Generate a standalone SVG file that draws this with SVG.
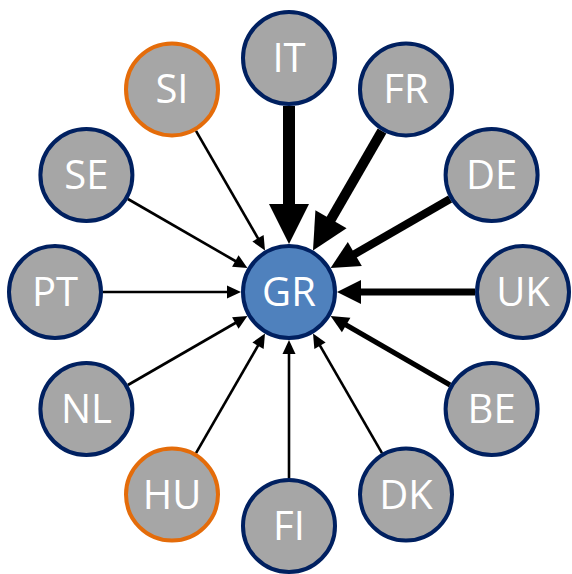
<svg xmlns="http://www.w3.org/2000/svg" width="572" height="574" viewBox="0 0 572 574">
<style>
.n{fill:#A6A6A6;stroke:#002060;stroke-width:4}
.o{fill:#A6A6A6;stroke:#E46C0A;stroke-width:4}
.c{fill:#4F81BD;stroke:#002060;stroke-width:4}
.t{font-family:"Open Sans","Noto Sans",sans-serif;font-size:40px;fill:#FFFFFF;text-anchor:middle}
.l{stroke:#000;fill:none}
.h{fill:#000}
</style>
<rect width="572" height="574" fill="#FFFFFF"/>
<g id="connectors">
  <!-- canonical arrow along +x from outer node (UK direction) into GR, rotated -->
  <g id="e-UK"><line class="l" x1="475" y1="292" x2="359" y2="292" stroke-width="7"/><polygon class="h" points="337,292 361,280 361,304"/></g>
  <g id="e-BE" transform="rotate(30 289 292)"><line class="l" x1="475" y1="292" x2="353" y2="292" stroke-width="5"/><polygon class="h" points="337,292 355,283.5 355,300.5"/></g>
  <g id="e-DK" transform="rotate(60 289 292)"><line class="l" x1="475" y1="292" x2="349" y2="292" stroke-width="2.6"/><polygon class="h" points="337,292 351,285.5 351,298.5"/></g>
  <g id="e-FI" transform="rotate(90 289 292)"><line class="l" x1="475" y1="292" x2="349" y2="292" stroke-width="2.6"/><polygon class="h" points="337,292 351,285.5 351,298.5"/></g>
  <g id="e-HU" transform="rotate(120 289 292)"><line class="l" x1="475" y1="292" x2="349" y2="292" stroke-width="2.6"/><polygon class="h" points="337,292 351,285.5 351,298.5"/></g>
  <g id="e-NL" transform="rotate(150 289 292)"><line class="l" x1="475" y1="292" x2="349" y2="292" stroke-width="2.6"/><polygon class="h" points="337,292 351,285.5 351,298.5"/></g>
  <g id="e-PT" transform="rotate(180 289 292)"><line class="l" x1="475" y1="292" x2="349" y2="292" stroke-width="2.6"/><polygon class="h" points="337,292 351,285.5 351,298.5"/></g>
  <g id="e-SE" transform="rotate(210 289 292)"><line class="l" x1="475" y1="292" x2="349" y2="292" stroke-width="2.6"/><polygon class="h" points="337,292 351,285.5 351,298.5"/></g>
  <g id="e-SI" transform="rotate(240 289 292)"><line class="l" x1="475" y1="292" x2="349" y2="292" stroke-width="2.6"/><polygon class="h" points="337,292 351,285.5 351,298.5"/></g>
  <g id="e-IT" transform="rotate(270 289 292)"><line class="l" x1="475" y1="292" x2="375" y2="292" stroke-width="12"/><polygon class="h" points="337,292 377,272 377,312"/></g>
  <g id="e-FR" transform="rotate(300 289 292)"><line class="l" x1="475" y1="292" x2="371" y2="292" stroke-width="10"/><polygon class="h" points="337,292 373,274 373,310"/></g>
  <g id="e-DE" transform="rotate(330 289 292)"><line class="l" x1="475" y1="292" x2="363" y2="292" stroke-width="8"/><polygon class="h" points="337,292 365,278 365,306"/></g>
</g>
<g id="GR"><circle class="c" cx="289" cy="292" r="46"/><text class="t" x="289" y="306">GR</text></g>
<g id="IT"><circle class="n" cx="289" cy="58" r="46"/><text class="t" x="289" y="72">IT</text></g>
<g id="FR"><circle class="n" cx="406" cy="89.4" r="46"/><text class="t" x="406" y="103.4">FR</text></g>
<g id="DE"><circle class="n" cx="491.6" cy="175" r="46"/><text class="t" x="491.6" y="189">DE</text></g>
<g id="UK"><circle class="n" cx="523" cy="292" r="46"/><text class="t" x="523" y="306">UK</text></g>
<g id="BE"><circle class="n" cx="491.6" cy="409" r="46"/><text class="t" x="491.6" y="423">BE</text></g>
<g id="DK"><circle class="n" cx="406" cy="494.6" r="46"/><text class="t" x="406" y="508.6">DK</text></g>
<g id="FI"><circle class="n" cx="289" cy="526" r="46"/><text class="t" x="289" y="540">FI</text></g>
<g id="HU"><circle class="o" cx="172" cy="494.6" r="46"/><text class="t" x="172" y="508.6">HU</text></g>
<g id="NL"><circle class="n" cx="86.4" cy="409" r="46"/><text class="t" x="86.4" y="423">NL</text></g>
<g id="PT"><circle class="n" cx="55" cy="292" r="46"/><text class="t" x="55" y="306">PT</text></g>
<g id="SE"><circle class="n" cx="86.4" cy="175" r="46"/><text class="t" x="86.4" y="189">SE</text></g>
<g id="SI"><circle class="o" cx="172" cy="89.4" r="46"/><text class="t" x="172" y="103.4">SI</text></g>
</svg>
